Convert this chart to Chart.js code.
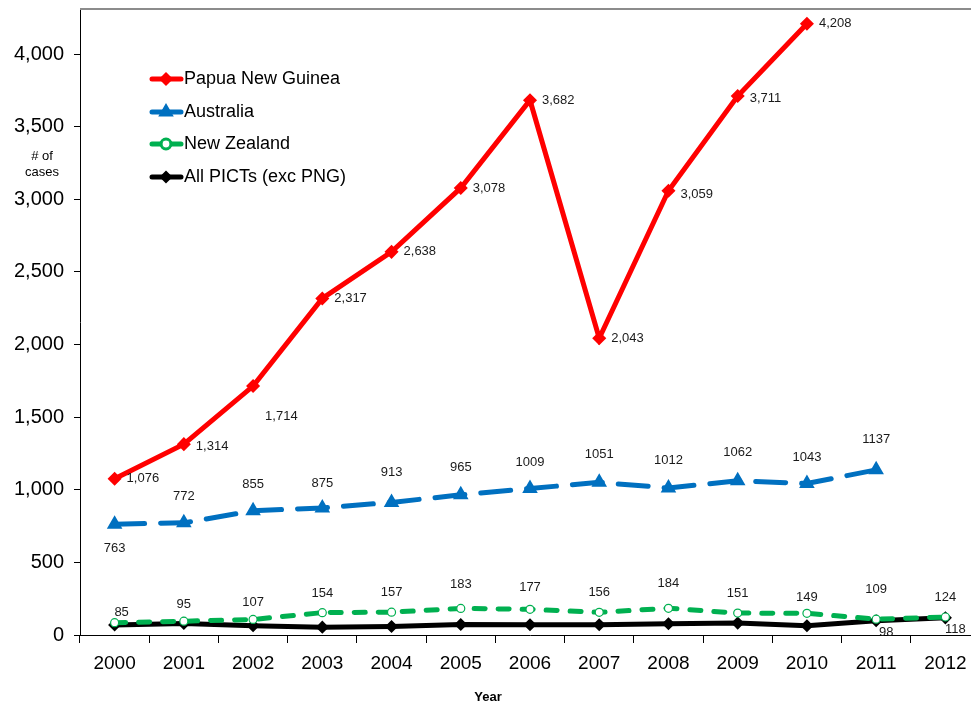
<!DOCTYPE html>
<html>
<head>
<meta charset="utf-8">
<script src="https://cdn.jsdelivr.net/npm/chart.js@4.4.0/dist/chart.umd.min.js"></script>
<style>
  html, body { margin: 0; padding: 0; background: #fff; overflow: hidden; }
  #wrap { width: 990px; height: 709px; }
</style>
</head>
<body>
<div id="wrap"><canvas id="chart" width="990" height="709"></canvas></div>
<script>
// dados
const years = ['2000','2001','2002','2003','2004','2005','2006','2007','2008','2009','2010','2011','2012'];
const png = [1076, 1314, 1714, 2317, 2638, 3078, 3682, 2043, 3059, 3711, 4208, null, null];
const australia = [763, 772, 855, 875, 913, 965, 1009, 1051, 1012, 1062, 1043, 1137, null];
const newZealand = [85, 95, 107, 154, 157, 183, 177, 156, 184, 151, 149, 109, 124];
const picts = [69, 80, 64, 54, 58, 72, 70, 70, 78, 82, 64, 98, 118];
const yTicks = [0, 500, 1000, 1500, 2000, 2500, 3000, 3500, 4000];

// deslocamento dos rótulos (px) em relação ao ponto
const pngLabelDy = [0, 2, 30, 0, 0, 0, 0, 0, 4, 2, 0, 0, 0];
const ausLabelDy = [24, -26, -26, -24, -30, -27, -26, -28, -28, -28, -26, -30, 0];
const nzLabelDy = [-10, -17, -17, -19, -20, -24, -22, -20, -25, -20, -16, -30, -20];

const font = '"Liberation Sans", Arial, sans-serif';

const datasets = [
  {
    label: 'Papua New Guinea', data: png,
    borderColor: '#FF0000', backgroundColor: '#FF0000',
    borderWidth: 5, pointStyle: 'rectRot', pointRadius: 3.5,
    labelMode: 'right', labelDy: pngLabelDy,
    fmt: v => v.toLocaleString('en-US')
  },
  {
    label: 'Australia', data: australia,
    borderColor: '#0070C0', backgroundColor: '#0070C0',
    borderWidth: 5, borderDash: [30, 16], borderCapStyle: 'round',
    pointStyle: 'triangle', pointRadius: 4,
    labelMode: 'center', labelDy: ausLabelDy,
    fmt: v => String(v)
  },
  {
    label: 'New Zealand', data: newZealand,
    borderColor: '#00B050', backgroundColor: '#ffffff',
    borderWidth: 5, borderDash: [11, 13], borderCapStyle: 'round',
    pointStyle: 'circle', pointRadius: 4, pointBorderWidth: 1.2,
    labelMode: 'center', labelDy: nzLabelDy, labelDx0: 7,
    fmt: v => String(v)
  },
  {
    label: 'All PICTs (exc PNG)', data: picts,
    borderColor: '#000000', backgroundColor: '#000000',
    borderWidth: 5, pointStyle: 'rectRot', pointRadius: 3,
    labelMode: 'below', labelFrom: 11,
    fmt: v => String(v)
  }
];

const labelsPlugin = {
  id: 'valueLabels',
  afterDatasetsDraw(chart) {
    const ctx = chart.ctx;
    ctx.save();
    ctx.font = '13px ' + font;
    ctx.fillStyle = '#1a1a1a';
    ctx.textBaseline = 'middle';
    chart.data.datasets.forEach((ds, i) => {
      const meta = chart.getDatasetMeta(i);
      meta.data.forEach((pt, j) => {
        const v = ds.data[j];
        if (v == null) return;
        if (ds.labelFrom != null && j < ds.labelFrom) return;
        const txt = ds.fmt(v);
        if (ds.labelMode === 'right') {
          ctx.textAlign = 'left';
          ctx.fillText(txt, pt.x + 12, pt.y + ds.labelDy[j]);
        } else if (ds.labelMode === 'center') {
          ctx.textAlign = 'center';
          const dx = (j === 0 && ds.labelDx0) ? ds.labelDx0 : 0;
          ctx.fillText(txt, pt.x + dx, pt.y + ds.labelDy[j]);
        } else {
          ctx.textAlign = 'center';
          ctx.fillText(txt, pt.x + 10, pt.y + 12);
        }
      });
    });
    ctx.restore();
  }
};

const extrasPlugin = {
  id: 'extras',
  afterDraw(chart) {
    const ctx = chart.ctx;
    const area = chart.chartArea;
    ctx.save();
    // borda superior
    ctx.strokeStyle = '#8c8c8c';
    ctx.lineWidth = 2;
    ctx.beginPath();
    ctx.moveTo(area.left, area.top);
    ctx.lineTo(area.right, area.top);
    ctx.stroke();

    // título do eixo Y
    ctx.fillStyle = '#000';
    ctx.font = '13px ' + font;
    ctx.textAlign = 'center';
    ctx.textBaseline = 'middle';
    ctx.fillText('# of', 42, 156);
    ctx.fillText('cases', 42, 172);

    // título do eixo X
    ctx.font = 'bold 13px ' + font;
    ctx.fillText('Year', 488, 697);

    // legenda
    const rows = [79, 112, 144, 177];
    chart.data.datasets.forEach((ds, i) => {
      const y = rows[i];
      ctx.strokeStyle = ds.borderColor;
      ctx.lineWidth = 5;
      ctx.lineCap = 'round';
      ctx.setLineDash(ds.borderDash ? [12, 6] : []);
      ctx.beginPath();
      ctx.moveTo(152, y);
      ctx.lineTo(181, y);
      ctx.stroke();
      ctx.setLineDash([]);
      Chart.helpers.drawPoint(ctx, {
        pointStyle: ds.pointStyle,
        radius: ds.pointRadius,
        borderWidth: ds.pointBorderWidth || 1
      }, 166, y);
      ctx.fillStyle = ds.backgroundColor;
      ctx.fill();
      ctx.strokeStyle = ds.borderColor;
      ctx.lineWidth = ds.pointBorderWidth || 1;
      ctx.stroke();
      ctx.fillStyle = '#000';
      ctx.font = '18px ' + font;
      ctx.textAlign = 'left';
      ctx.fillText(ds.label, 184, y);
    });
    ctx.restore();
  }
};

new Chart(document.getElementById('chart').getContext('2d'), {
  type: 'line',
  data: { labels: years, datasets },
  options: {
    responsive: false,
    devicePixelRatio: 1,
    animation: false,
    layout: { padding: { top: 9, right: 10, left: 0, bottom: 0 } },
    elements: { line: { tension: 0, fill: false } },
    datasets: { line: { clip: false, spanGaps: false } },
    plugins: { legend: { display: false }, tooltip: { enabled: false } },
    scales: {
      x: {
        offset: true,
        grid: { offset: true, drawOnChartArea: false, color: '#000', tickLength: 8, tickColor: '#000' },
        border: { color: '#000', width: 1 },
        ticks: { color: '#000', font: { family: font, size: 19 }, padding: 9, maxRotation: 0 },
        afterFit: s => { s.height = 74; s.paddingLeft = 0; s.paddingRight = 0; }
      },
      y: {
        min: 0, max: 4310,
        grid: { drawOnChartArea: false, color: '#000', tickLength: 6, tickColor: '#000' },
        border: { color: '#000', width: 1 },
        ticks: { color: '#000', font: { family: font, size: 20 }, padding: 10,
                 callback: v => v.toLocaleString('en-US') },
        afterBuildTicks: s => { s.ticks = yTicks.map(v => ({ value: v })); },
        afterFit: s => { s.width = 80; s.paddingTop = 0; s.paddingBottom = 0; }
      }
    }
  },
  plugins: [labelsPlugin, extrasPlugin]
});
</script>
</body>
</html>
